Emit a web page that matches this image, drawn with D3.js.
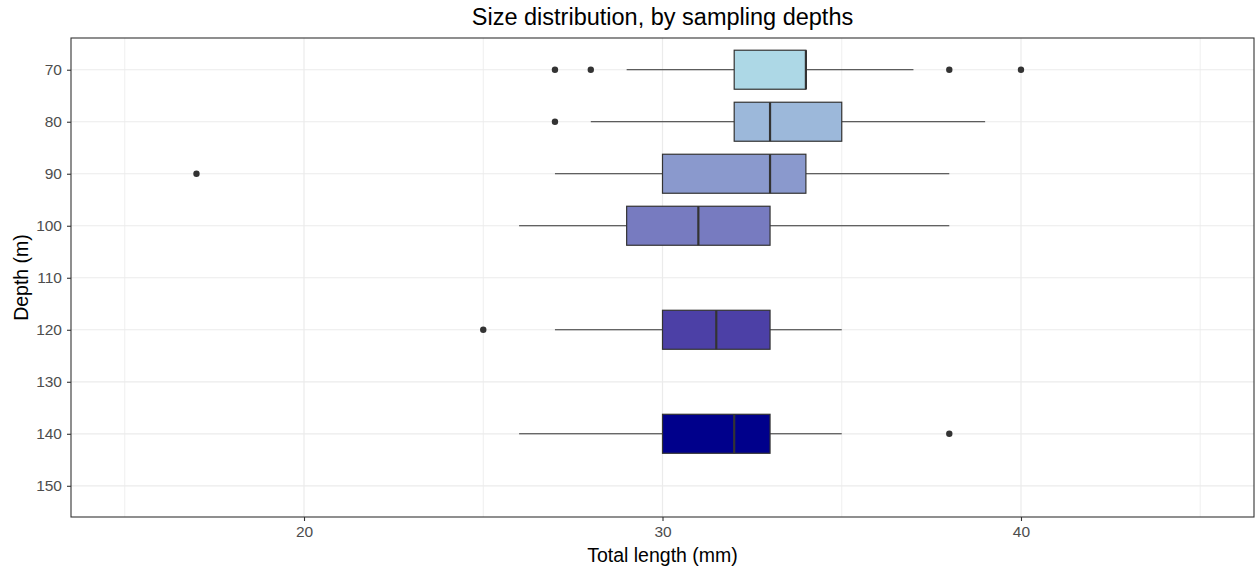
<!DOCTYPE html>
<html>
<head>
<meta charset="utf-8">
<script src="https://cdn.jsdelivr.net/npm/d3@7"></script>
<style>
  body { margin: 0; background: #fff; }
  svg { font-family: "Liberation Sans", Arial, sans-serif; }
</style>
</head>
<body>
<script>
// depth groups and their box statistics (total length, mm)
const depths = [70, 80, 90, 100, 120, 140];
const lowerWhisker = [29, 28, 27, 26, 27, 26];
const q1 = [32, 32, 30, 29, 30, 30];
const medians = [34, 33, 33, 31, 31.5, 32];
const q3 = [34, 35, 34, 33, 33, 33];
const upperWhisker = [37, 39, 38, 38, 35, 35];
const outliers = [[27, 28, 38, 40], [27], [17], [], [25], [38]];

const xTicks = [20, 30, 40];
const xMinor = [15, 25, 35, 45];
const yTicks = [70, 80, 90, 100, 110, 120, 130, 140, 150];

const W = 1258, H = 571;
const m = { top: 38, right: 4, bottom: 54, left: 71 };

const svg = d3.select("body").append("svg")
  .attr("width", W).attr("height", H);

const x = d3.scaleLinear().domain([13.5, 46.5]).range([m.left, W - m.right]);
const y = d3.scaleLinear().domain([63.9, 156]).range([m.top, H - m.bottom]);
const fill = d3.scaleLinear().domain([70, 140])
  .range(["lightblue", "darkblue"]).interpolate(d3.interpolateLab);

const boxHalf = 3.75;

const data = depths.map((d, i) => ({
  depth: d, lo: lowerWhisker[i], q1: q1[i], med: medians[i],
  q3: q3[i], hi: upperWhisker[i], out: outliers[i]
}));

// grid
const grid = svg.append("g");
grid.selectAll(".minx").data(xMinor).join("line")
  .attr("x1", d => x(d)).attr("x2", d => x(d))
  .attr("y1", m.top).attr("y2", H - m.bottom)
  .attr("stroke", "#EBEBEB").attr("stroke-width", 0.8);
grid.selectAll(".majx").data(xTicks).join("line")
  .attr("x1", d => x(d)).attr("x2", d => x(d))
  .attr("y1", m.top).attr("y2", H - m.bottom)
  .attr("stroke", "#EBEBEB").attr("stroke-width", 1.2);
grid.selectAll(".majy").data(yTicks).join("line")
  .attr("y1", d => y(d)).attr("y2", d => y(d))
  .attr("x1", m.left).attr("x2", W - m.right)
  .attr("stroke", "#EBEBEB").attr("stroke-width", 1.2);

// boxplots
const g = svg.append("g").selectAll("g").data(data).join("g");

g.append("line")
  .attr("x1", d => x(d.lo)).attr("x2", d => x(d.q1))
  .attr("y1", d => y(d.depth)).attr("y2", d => y(d.depth))
  .attr("stroke", "#333").attr("stroke-width", 1);
g.append("line")
  .attr("x1", d => x(d.q3)).attr("x2", d => x(d.hi))
  .attr("y1", d => y(d.depth)).attr("y2", d => y(d.depth))
  .attr("stroke", "#333").attr("stroke-width", 1);
g.append("rect")
  .attr("x", d => x(d.q1))
  .attr("width", d => x(d.q3) - x(d.q1))
  .attr("y", d => y(d.depth - boxHalf))
  .attr("height", d => y(d.depth + boxHalf) - y(d.depth - boxHalf))
  .attr("fill", d => fill(d.depth))
  .attr("stroke", "#333").attr("stroke-width", 1.2);
g.append("line")
  .attr("x1", d => x(d.med)).attr("x2", d => x(d.med))
  .attr("y1", d => y(d.depth - boxHalf)).attr("y2", d => y(d.depth + boxHalf))
  .attr("stroke", "#333").attr("stroke-width", 2.2);
g.selectAll("circle").data(d => d.out.map(v => ({ v, depth: d.depth }))).join("circle")
  .attr("cx", d => x(d.v)).attr("cy", d => y(d.depth))
  .attr("r", 3.2).attr("fill", "#333");

// panel border
svg.append("rect")
  .attr("x", m.left).attr("y", m.top)
  .attr("width", W - m.right - m.left).attr("height", H - m.bottom - m.top)
  .attr("fill", "none").attr("stroke", "#333").attr("stroke-width", 1.1);

// axes
const xAxis = svg.append("g")
  .attr("transform", `translate(0,${H - m.bottom})`)
  .call(d3.axisBottom(x).tickValues(xTicks).tickSize(4).tickPadding(5));
const yAxis = svg.append("g")
  .attr("transform", `translate(${m.left},0)`)
  .call(d3.axisLeft(y).tickValues(yTicks).tickSize(4).tickPadding(5));
[xAxis, yAxis].forEach(a => {
  a.select(".domain").remove();
  a.selectAll(".tick line").attr("stroke", "#333").attr("stroke-width", 1.1);
  a.selectAll(".tick text").attr("fill", "#4D4D4D")
    .style("font-size", "15.5px").style("font-family", "Liberation Sans, Arial, sans-serif");
});

// titles
const cx = (m.left + W - m.right) / 2;
svg.append("text").attr("x", cx).attr("y", 25)
  .attr("text-anchor", "middle").style("font-size", "23.5px")
  .text("Size distribution, by sampling depths");
svg.append("text").attr("x", cx).attr("y", 562)
  .attr("text-anchor", "middle").style("font-size", "19.5px")
  .text("Total length (mm)");
svg.append("text")
  .attr("transform", `translate(28,${(m.top + H - m.bottom) / 2}) rotate(-90)`)
  .attr("text-anchor", "middle").style("font-size", "19.5px")
  .text("Depth (m)");
</script>
</body>
</html>
